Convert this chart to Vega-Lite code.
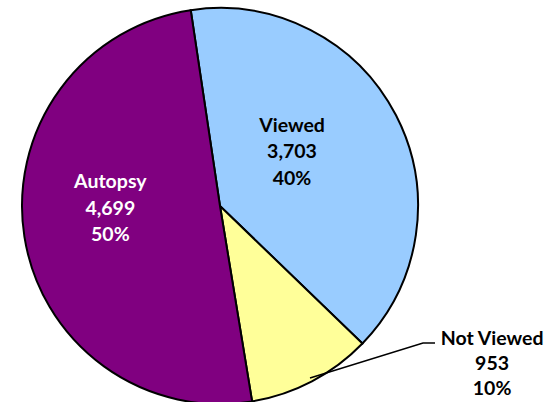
{
  "$schema": "https://vega.github.io/schema/vega-lite/v6.json",
  "width": 440,
  "height": 412,
  "autosize": {"type": "none"},
  "padding": {"left": 0, "top": 0, "right": 114, "bottom": 0},
  "background": "white",
  "view": {"stroke": null},
  "datasets": {
    "slices": [
      {"category": "Viewed", "value": 3703, "idx": 1},
      {"category": "Not Viewed", "value": 953, "idx": 2},
      {"category": "Autopsy", "value": 4699, "idx": 3}
    ],
    "leader": [
      {"x": 0.4545, "y": -0.8687, "k": 1},
      {"x": 1.0253, "y": -0.6919, "k": 2},
      {"x": 1.0859, "y": -0.6919, "k": 3}
    ]
  },
  "layer": [
    {
      "data": {"name": "slices"},
      "mark": {"type": "arc", "radius": 198, "stroke": "black", "strokeWidth": 2},
      "encoding": {
        "theta": {"field": "value", "type": "quantitative", "stack": true, "scale": {"range": [-0.1484, 6.1348]}},
        "order": {"field": "idx"},
        "color": {"field": "category", "type": "nominal", "scale": {"domain": ["Viewed", "Not Viewed", "Autopsy"], "range": ["#99CCFF", "#FFFF99", "#800080"]}, "legend": null}
      }
    },
    {
      "data": {"name": "slices"},
      "transform": [
        {"stack": "value", "groupby": [], "sort": [{"field": "idx"}], "as": ["v0", "v1"]},
        {"joinaggregate": [{"op": "sum", "field": "value", "as": "total"}]},
        {"calculate": "(datum.v0+datum.v1)/2", "as": "mid"},
        {"calculate": "[datum.category, format(datum.value, ','), format(datum.value/datum.total, '.0%')]", "as": "label"},
        {"filter": "datum.category === 'Viewed'"}
      ],
      "mark": {"type": "text", "radius": 90, "dx": -8, "dy": -39, "font": "Lato", "fontWeight": "bold", "fontSize": 19.5, "lineHeight": 26.5, "color": "black", "align": "center", "baseline": "middle"},
      "encoding": {"theta": {"field": "mid", "type": "quantitative", "stack": null}, "text": {"field": "label"}}
    },
    {
      "data": {"name": "slices"},
      "transform": [
        {"stack": "value", "groupby": [], "sort": [{"field": "idx"}], "as": ["v0", "v1"]},
        {"joinaggregate": [{"op": "sum", "field": "value", "as": "total"}]},
        {"calculate": "(datum.v0+datum.v1)/2", "as": "mid"},
        {"calculate": "[datum.category, format(datum.value, ','), format(datum.value/datum.total, '.0%')]", "as": "label"},
        {"filter": "datum.category === 'Autopsy'"}
      ],
      "mark": {"type": "text", "radius": 110, "dx": -1, "dy": -41, "font": "Lato", "fontWeight": "bold", "fontSize": 19.5, "lineHeight": 26.5, "color": "white", "align": "center", "baseline": "middle"},
      "encoding": {"theta": {"field": "mid", "type": "quantitative", "stack": null}, "text": {"field": "label"}}
    },
    {
      "data": {"name": "slices"},
      "transform": [
        {"stack": "value", "groupby": [], "sort": [{"field": "idx"}], "as": ["v0", "v1"]},
        {"joinaggregate": [{"op": "sum", "field": "value", "as": "total"}]},
        {"calculate": "(datum.v0+datum.v1)/2", "as": "mid"},
        {"calculate": "[datum.category, format(datum.value, ','), format(datum.value/datum.total, '.0%')]", "as": "label"},
        {"filter": "datum.category === 'Not Viewed'"}
      ],
      "mark": {"type": "text", "radius": 250, "dx": 156, "dy": -88, "font": "Lato", "fontWeight": "bold", "fontSize": 19.5, "lineHeight": 25, "color": "black", "align": "center", "baseline": "middle"},
      "encoding": {"theta": {"field": "mid", "type": "quantitative", "stack": null}, "text": {"field": "label"}}
    },
    {
      "data": {"name": "leader"},
      "mark": {"type": "line", "stroke": "black", "strokeWidth": 1.5, "clip": false},
      "encoding": {
        "x": {"field": "x", "type": "quantitative", "scale": {"domain": [-1.1111, 1.1111], "nice": false, "zero": false}, "axis": null},
        "y": {"field": "y", "type": "quantitative", "scale": {"domain": [-1.0404, 1.0404], "nice": false, "zero": false}, "axis": null},
        "order": {"field": "k"}
      }
    }
  ]
}
